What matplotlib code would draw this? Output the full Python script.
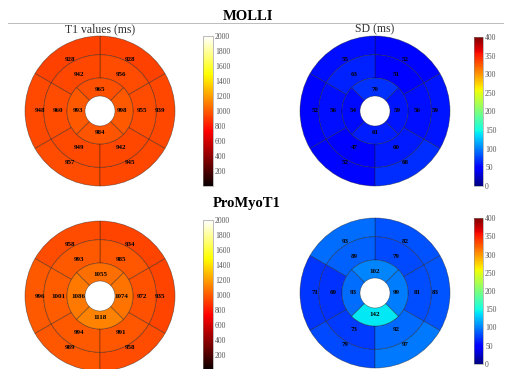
import matplotlib
matplotlib.use("Agg")
import matplotlib.pyplot as plt
import numpy as np
from matplotlib.patches import Wedge
from matplotlib import cm, colors
from matplotlib.lines import Line2D

plt.rcParams['font.family'] = ['Liberation Serif', 'DejaVu Serif']

# ---- data: outer / middle rings at 0,60,...,300 deg; inner ring at 0,90,180,270 deg ----
outer_angles = [0, 60, 120, 180, 240, 300]
inner_angles = [0, 90, 180, 270]

molli_t1_outer = [939, 928, 928, 948, 957, 945]
molli_t1_mid = [955, 956, 942, 960, 949, 942]
molli_t1_inner = [998, 965, 993, 984]

molli_sd_outer = [59, 52, 55, 52, 52, 68]
molli_sd_mid = [56, 51, 63, 56, 47, 60]
molli_sd_inner = [59, 70, 54, 61]

promyo_t1_outer = [935, 934, 958, 996, 989, 958]
promyo_t1_mid = [972, 985, 993, 1001, 994, 991]
promyo_t1_inner = [1074, 1055, 1086, 1118]

promyo_sd_outer = [83, 82, 93, 71, 79, 97]
promyo_sd_mid = [81, 79, 89, 69, 73, 92]
promyo_sd_inner = [99, 102, 93, 142]

t1_ticks = list(range(200, 2001, 200))
sd_ticks = list(range(0, 401, 50))

W, H = 505, 369
fig = plt.figure(figsize=(W / 100, H / 100), dpi=100)


def px_axes(x0, y0, w, h):
    # pixel box measured from top-left
    return fig.add_axes([x0 / W, 1 - (y0 + h) / H, w / W, h / H])


R = 75.0  # outer radius in px


def bullseye(cx, cy, outer, mid, inner, cmap, norm):
    size = 170
    ax = px_axes(cx - size / 2, cy - size / 2, size, size)
    lim = size / 2 / R
    ax.set_xlim(-lim, lim)
    ax.set_ylim(-lim, lim)
    ax.set_aspect('equal')
    ax.axis('off')
    ec = (0.1, 0.1, 0.1, 0.5)
    rings = [
        (1.0, 0.25, outer_angles, outer, 60, 0.80),
        (0.75, 0.31, outer_angles, mid, 60, 0.56),
        (0.44, 0.24, inner_angles, inner, 90, 0.29),
    ]
    for r, wdt, angs, vals, span, rl in rings:
        for a, v in zip(angs, vals):
            ax.add_patch(Wedge((0, 0), r, a - span / 2, a + span / 2, width=wdt,
                               facecolor=cmap(norm(v)), edgecolor=ec, linewidth=0.5))
            x = rl * np.cos(np.radians(a))
            y = rl * np.sin(np.radians(a))
            ax.text(x, y, str(v), ha='center', va='center', fontsize=5,
                    fontweight='bold', color='black')
    return ax


hot = plt.get_cmap('hot')
jet = plt.get_cmap('jet')
n_t1 = colors.Normalize(0, 2000)
n_sd = colors.Normalize(0, 400)

bullseye(100, 111, molli_t1_outer, molli_t1_mid, molli_t1_inner, hot, n_t1)
bullseye(375, 111, molli_sd_outer, molli_sd_mid, molli_sd_inner, jet, n_sd)
bullseye(100, 296, promyo_t1_outer, promyo_t1_mid, promyo_t1_inner, hot, n_t1)
bullseye(375, 293, promyo_sd_outer, promyo_sd_mid, promyo_sd_inner, jet, n_sd)


def cbar(x0, y0, w, h, cmap, norm, ticks):
    cax = px_axes(x0, y0, w, h)
    cb = fig.colorbar(cm.ScalarMappable(norm=norm, cmap=cmap), cax=cax, ticks=ticks)
    cb.outline.set_linewidth(0.4)
    cb.outline.set_edgecolor('#888888')
    cax.tick_params(length=0, labelsize=5.5, labelcolor='#555555', pad=1.5)
    return cb


cbar(203, 36, 10, 150, hot, n_t1, t1_ticks)
cbar(474, 37, 9, 149, jet, n_sd, sd_ticks)
cbar(203, 220, 10, 150, hot, n_t1, t1_ticks)
cbar(474, 218, 9, 146, jet, n_sd, sd_ticks)

# titles
fig.text(248 / W, 1 - 17 / H, 'MOLLI', ha='center', va='center', fontsize=10.5, fontweight='bold')
fig.text(247 / W, 1 - 203 / H, 'ProMyoT1', ha='center', va='center', fontsize=10.5, fontweight='bold')
fig.add_artist(Line2D([8 / W, 503 / W], [1 - 22.5 / H, 1 - 22.5 / H], color='#bbbbbb', linewidth=0.7))
fig.text(100 / W, 1 - 29 / H, 'T1 values (ms)', ha='center', va='center', fontsize=8.5, color='#333333')
fig.text(375 / W, 1 - 29 / H, 'SD (ms)', ha='center', va='center', fontsize=8.5, color='#333333')

fig.savefig('out.png', dpi=100)
